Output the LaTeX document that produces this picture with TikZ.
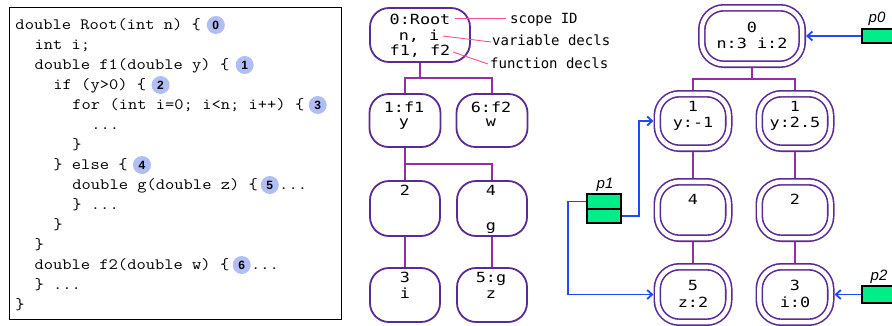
\documentclass[tikz,border=0pt]{standalone}
\usepackage{fontspec}
\setmainfont{Liberation Sans}
\newfontfamily\codefont[FakeStretch=1.14]{Latin Modern Mono}
\newfontfamily\treefont[FakeStretch=1.2]{DejaVu Sans Mono}
\newfontfamily\notefont{DejaVu Sans Mono}
\usetikzlibrary{arrows.meta}

\definecolor{numblue}{HTML}{B0BEF5}
\definecolor{boxpurple}{HTML}{5A2A95}
\definecolor{connpurple}{HTML}{932FA0}
\definecolor{notepink}{HTML}{FF4A9E}
\definecolor{ptrblue}{HTML}{1F48FF}
\definecolor{ptrgreen}{HTML}{00EE88}

\begin{document}
\frenchspacing
\begin{tikzpicture}[
  x=1pt, y=-1pt,
  codeline/.style={anchor=base west, inner sep=0pt, font=\codefont\fontsize{15.8}{20}\selectfont},
  num/.style={circle, fill=numblue, inner sep=0pt, minimum size=18pt, anchor=west,
              font=\bfseries\fontsize{12}{12}\selectfont},
  ttext/.style={anchor=base, inner sep=0pt, font=\treefont\fontsize{14}{16}\selectfont},
  note/.style={anchor=base west, inner sep=0pt, font=\notefont\fontsize{14}{16}\selectfont},
  notelink/.style={draw=notepink, line width=0.9pt},
  lbox/.style={draw=boxpurple, line width=1.8pt, rounded corners=19pt, inner sep=0pt},
  rbox/.style={draw=boxpurple, line width=1.6pt, double=white, double distance=4.4pt,
               rounded corners=22pt, inner sep=0pt, outer sep=3.8pt},
  conn/.style={draw=connpurple, line width=2pt},
  ptrcell/.style={draw=black, line width=1.6pt, fill=ptrgreen, inner sep=0pt},
  ptrlink/.style={draw=ptrblue, line width=1.8pt, -{Straight Barb[length=5pt,width=9pt]}},
  plabel/.style={anchor=base, inner sep=0pt, font=\itshape\fontsize{15}{15}\selectfont}
]
\useasboundingbox (0,0) rectangle (892,325);

% ---------- source code panel ----------
\draw[line width=1.5pt] (9.3,7.3) rectangle (341.7,319.5);

\node[codeline] (c0)  at (15.3,29)  {double Root(int n) \{};
\node[codeline] (c1)  at (34.3,49)  {int i;};
\node[codeline] (c2)  at (34.3,69)  {double f1(double y) \{};
\node[codeline] (c3)  at (53.2,89)  {if (y>0) \{};
\node[codeline] (c4)  at (72.2,109) {for (int i=0; i<n; i++) \{};
\node[codeline] (c5)  at (91.1,129) {...};
\node[codeline] (c6)  at (72.2,149) {\}};
\node[codeline] (c7)  at (53.2,169) {\} else \{};
\node[codeline] (c8)  at (72.2,189) {double g(double z) \{};
\node[codeline] (c9)  at (72.2,209) {\} ...};
\node[codeline] (c10) at (53.2,229) {\}};
\node[codeline] (c11) at (34.3,249) {\}};
\node[codeline] (c12) at (34.3,269) {double f2(double w) \{};
\node[codeline] (c13) at (34.3,289) {\} ...};
\node[codeline] (c14) at (15.3,309) {\}};

\node[num, xshift=5.4pt, yshift=4pt] (n0) at (c0.base east)  {0};
\node[num, xshift=6pt,   yshift=4pt] (n1) at (c2.base east)  {1};
\node[num, xshift=5pt,   yshift=4pt] (n2) at (c3.base east)  {2};
\node[num, xshift=4pt,   yshift=4pt] (n3) at (c4.base east)  {3};
\node[num, xshift=5pt,   yshift=4pt] (n4) at (c7.base east)  {4};
\node[num, xshift=2.5pt, yshift=4pt] (n5) at (c8.base east)  {5};
\node[num, xshift=3pt,   yshift=4pt] (n6) at (c12.base east) {6};
\node[codeline, yshift=-4pt] (d5) at (n5.east) {...};
\node[codeline, yshift=-4pt] (d6) at (n6.east) {...};

% ---------- static scope tree ----------
\node[lbox, minimum width=100pt, minimum height=54pt] (R)  at (420,35)    {};
\node[lbox, minimum width=71pt,  minimum height=53pt] (F1) at (405,120.5) {};
\node[lbox, minimum width=71pt,  minimum height=53pt] (F2) at (492,120.5) {};
\node[lbox, minimum width=70pt,  minimum height=55pt] (B2) at (405,208.5) {};
\node[lbox, minimum width=70pt,  minimum height=55pt] (B4) at (492,208.5) {};
\node[lbox, minimum width=70pt,  minimum height=54pt] (B3) at (405,295)   {};
\node[lbox, minimum width=70pt,  minimum height=54pt] (B5) at (492,295)   {};

\node[ttext] (Rt1) at (420,24)  {0:Root};
\node[ttext] (Rt2) at (419,40)  {n, i};
\node[ttext] (Rt3) at (420,55)  {f1, f2};
\node[ttext] (F1t1) at (404,112) {1:f1};
\node[ttext] (F1t2) at (404,126) {y};
\node[ttext] (F2t1) at (491,112) {6:f2};
\node[ttext] (F2t2) at (491,126) {w};
\node[ttext] (B2t1) at (405,195) {2};
\node[ttext] (B4t1) at (491,195) {4};
\node[ttext] (B4t2) at (491,230) {g};
\node[ttext] (B3t1) at (405,282) {3};
\node[ttext] (B3t2) at (405,298) {i};
\node[ttext] (B5t1) at (491,282) {5:g};
\node[ttext] (B5t2) at (491,298) {z};

\draw[conn] (R.south) -- ++(0,15) coordinate (jr);
\draw[conn] (jr) -| (F1.north);
\draw[conn] (jr) -| (F2.north);
\draw[conn] (F1.south) -- ++(0,16) coordinate (jf);
\draw[conn] (jf) -| (B4.north);
\draw[conn] (jf) -- (B2.north);
\draw[conn] (B2.south) -- (B3.north);
\draw[conn] (B4.south) -- (B5.north);

% annotations
\node[note] (sid) at (510,23) {scope ID};
\node[note] (vd)  at (492,45) {variable decls};
\node[note] (fd)  at (490,68) {function decls};
\coordinate (a1) at (455,18);
\coordinate (a2) at (443,36);
\coordinate (a3) at (453,52);
\draw[notelink] (a1) -- ([xshift=-4pt,yshift=5pt]sid.base west);
\draw[notelink] (a2) -- ([xshift=-1pt,yshift=3pt]vd.base west);
\draw[notelink] (a3) -- ([xshift=-2pt,yshift=4pt]fd.base west);

% ---------- runtime scope instances ----------
\node[rbox, minimum width=100.4pt, minimum height=56.4pt] (S0)  at (752,36)    {};
\node[rbox, minimum width=71.4pt,  minimum height=54.4pt] (S1a) at (693,121)   {};
\node[rbox, minimum width=71.4pt,  minimum height=54.4pt] (S1b) at (795,121)   {};
\node[rbox, minimum width=71.4pt,  minimum height=56.4pt] (S4)  at (693,210)   {};
\node[rbox, minimum width=71.4pt,  minimum height=56.4pt] (S2)  at (795,210)   {};
\node[rbox, minimum width=71.4pt,  minimum height=55.4pt] (S5)  at (693,294.5) {};
\node[rbox, minimum width=71.4pt,  minimum height=55.4pt] (S3)  at (795,294.5) {};

\node[ttext] (S0t1)  at (752,32)  {0};
\node[ttext] (S0t2)  at (752,48)  {n:3 i:2};
\node[ttext] (S1at1) at (693,111) {1};
\node[ttext] (S1at2) at (693,127) {y:-1};
\node[ttext] (S1bt1) at (795,111) {1};
\node[ttext] (S1bt2) at (795,127) {y:2.5};
\node[ttext] (S4t1)  at (693,204) {4};
\node[ttext] (S2t1)  at (795,204) {2};
\node[ttext] (S5t1)  at (693,290) {5};
\node[ttext] (S5t2)  at (693,307) {z:2};
\node[ttext] (S3t1)  at (795,290) {3};
\node[ttext] (S3t2)  at (795,307) {i:0};

\draw[conn] (S0.south) -- ++(0,11) coordinate (js);
\draw[conn] (js) -| (S1a.north);
\draw[conn] (js) -| (S1b.north);
\draw[conn] (S1a.south) -- (S4.north);
\draw[conn] (S1b.south) -- (S2.north);
\draw[conn] (S4.south) -- (S5.north);
\draw[conn] (S2.south) -- (S3.north);

% ---------- pointers ----------
\node[ptrcell, minimum width=40pt, minimum height=14pt, anchor=west] (P0) at (861,36) {};
\node[ptrcell, minimum width=40pt, minimum height=16.5pt, anchor=west] (P2) at (861,294.5) {};
\node[ptrcell, minimum width=34.4pt, minimum height=14.5pt] (P1a) at (604,201.5) {};
\node[ptrcell, minimum width=34.4pt, minimum height=14.5pt] (P1b) at (604,216) {};

\node[plabel] (L0) at (877,22)  {p0};
\node[plabel] (L1) at (605,188) {p1};
\node[plabel] (L2) at (879,280) {p2};

\draw[ptrlink] (P0.west) -- (S0.east);
\draw[ptrlink] (P2.west) -- (S3.east);
\draw[ptrlink] (P1a.west) -- ++(-18,0) |- (S5.west);
\draw[ptrlink] (P1b.east) -- ++(17,0) |- (S1a.west);
\end{tikzpicture}
\end{document}
